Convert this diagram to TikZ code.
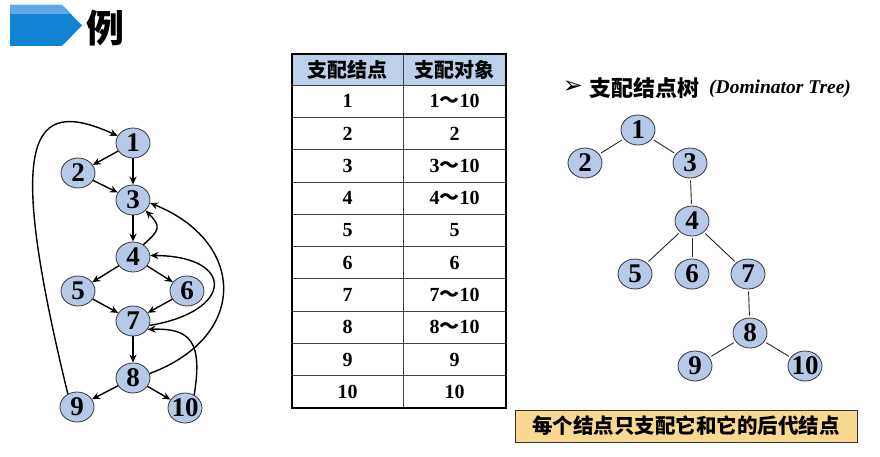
\documentclass[tikz,border=0pt]{standalone}
\usepackage{fontspec}
\setmainfont{Liberation Serif}[BoldFont={Liberation Serif Bold},ItalicFont={Liberation Serif Italic},BoldItalicFont={Liberation Serif Bold Italic}]
\newfontfamily\cjk{Noto Sans CJK SC}
\newfontfamily\dejavu{DejaVu Sans}
\usetikzlibrary{shapes.geometric,arrows.meta}
\definecolor{nodeblue}{RGB}{182,202,232}
\definecolor{headblue}{RGB}{188,208,234}
\definecolor{logoblue}{RGB}{18,130,210}
\definecolor{logolight}{RGB}{95,168,228}
\definecolor{notefill}{RGB}{249,216,145}
\newcommand\zw[1]{\makebox[0pt]{#1}}
\newcommand\tld{{\cjk\bfseries ～}}
\begin{document}
\begin{tikzpicture}[x=1pt,y=1pt,
  gn/.style={ellipse, draw=black!80, line width=0.8pt, fill=nodeblue,
    minimum width=34pt, minimum height=30pt, inner sep=0pt,
    font=\fontsize{27}{27}\selectfont\bfseries},
  arr/.style={line width=1.4pt, -{Stealth[length=8pt,width=7pt]}},
  tedge/.style={line width=0.9pt, black!85, shorten <=2pt, shorten >=2pt},
  cell/.style={inner sep=0pt, font=\fontsize{20}{20}\selectfont\bfseries},
  headtxt/.style={inner sep=0pt, font=\fontsize{20}{20}\selectfont\cjk\bfseries}
]
\useasboundingbox (0,0) rectangle (880,456);

% logo
\fill[logoblue] (10,451) -- (62,451) -- (82,430.5) -- (62,410) -- (10,410) -- cycle;
\fill[logolight] (10,451) -- (62,451) -- (71,442) -- (10,442) -- cycle;
\node[inner sep=0pt, font=\fontsize{38}{38}\selectfont\cjk\bfseries] (title) at (105,428) {例};

% left flow graph
\node[gn] (a1) at (133,313) {\zw{1}};
\node[gn] (a2) at (78,283) {\zw{2}};
\node[gn] (a3) at (133,256) {\zw{3}};
\node[gn] (a4) at (133,199) {\zw{4}};
\node[gn] (a5) at (78,165) {\zw{5}};
\node[gn] (a6) at (187,165) {\zw{6}};
\node[gn] (a7) at (133,135) {\zw{7}};
\node[gn] (a8) at (133,78) {\zw{8}};
\node[gn] (a9) at (77,49) {\zw{9}};
\node[gn] (a10) at (185,48) {\zw{10}};

\draw[arr] (a1) -- (a2);
\draw[arr] (a1) -- (a3);
\draw[arr] (a2) -- (a3);
\draw[arr] (a3) -- (a4);
\draw[arr] (a4.50) .. controls +(16,14) and +(16,-16) .. (a3.-40);
\draw[arr] (a4) -- (a5);
\draw[arr] (a4) -- (a6);
\draw[arr] (a5) -- (a7);
\draw[arr] (a6) -- (a7);
\draw[arr] (a7) -- (a8);
\draw[arr] (a8) -- (a9);
\draw[arr] (a8) -- (a10);
\draw[arr] (a7.-15) .. controls (235,145) and (235,200) .. (a4.5);
\draw[arr] (a8.15) .. controls (250,120) and (245,215) .. (a3.-10);
\draw[arr] (a10.55) .. controls (203,115) and (190,128) .. (a7.-30);
\draw[arr] (a9.125) .. controls (5,320) and (30,360) .. (a1.155);

% table
\fill[headblue] (292,371) rectangle (506,402);
\foreach \k in {1,...,9}{
  \draw[line width=0.8pt, black!75] (292,{371-\k*32.3}) -- (506,{371-\k*32.3});
}
\draw[line width=0.8pt, black!75] (292,371) -- (506,371);
\draw[line width=0.8pt, black!75] (403,402) -- (403,48);
\draw[line width=2pt] (292,48) rectangle (506,402);
\node[headtxt] (h1) at (347.5,386.5) {支配结点};
\node[headtxt] (h2) at (454.5,386.5) {支配对象};
\foreach \i/\b in {1/{1\tld10},2/2,3/{3\tld10},4/{4\tld10},5/5,6/6,7/{7\tld10},8/{8\tld10},9/9,10/10}{
  \node[cell] (r\i a) at (347.5,{371-(\i-0.5)*32.3}) {\i};
  \node[cell] (r\i b) at (454.5,{371-(\i-0.5)*32.3}) {\b};
}

% dominator tree title
\node[inner sep=0pt, font=\fontsize{24}{24}\selectfont\dejavu] (tarrow) at (573,369) {➢};
\node[inner sep=0pt, anchor=west, font=\fontsize{22}{22}\selectfont\cjk\bfseries] (tcjk) at (589,368) {支配结点树};
\node[inner sep=0pt, anchor=west, font=\fontsize{19.5}{19.5}\selectfont\bfseries\itshape] (tlat) at (709,367) {(Dominator Tree)};

% dominator tree
\node[gn] (t1) at (638,326) {\zw{1}};
\node[gn] (t2) at (585,293) {\zw{2}};
\node[gn] (t3) at (690,293) {\zw{3}};
\node[gn] (t4) at (692,235) {\zw{4}};
\node[gn] (t5) at (635,182) {\zw{5}};
\node[gn] (t6) at (692,182) {\zw{6}};
\node[gn] (t7) at (748,182) {\zw{7}};
\node[gn] (t8) at (750,123) {\zw{8}};
\node[gn] (t9) at (695,90) {\zw{9}};
\node[gn] (t10) at (805,90) {\zw{10}};
\draw[tedge] (t1) -- (t2);
\draw[tedge] (t1) -- (t3);
\draw[tedge] (t3) -- (t4);
\draw[tedge] (t4) -- (t5);
\draw[tedge] (t4) -- (t6);
\draw[tedge] (t4) -- (t7);
\draw[tedge] (t7) -- (t8);
\draw[tedge] (t8) -- (t9);
\draw[tedge] (t8) -- (t10);

% note box
\node[draw=black!80, line width=0.8pt, fill=notefill, minimum width=342pt, minimum height=32pt,
  inner sep=0pt, font=\fontsize{20.5}{20.5}\selectfont\cjk\bfseries] (note) at (686,30)
  {每个结点只支配它和它的后代结点};
\end{tikzpicture}
\end{document}
